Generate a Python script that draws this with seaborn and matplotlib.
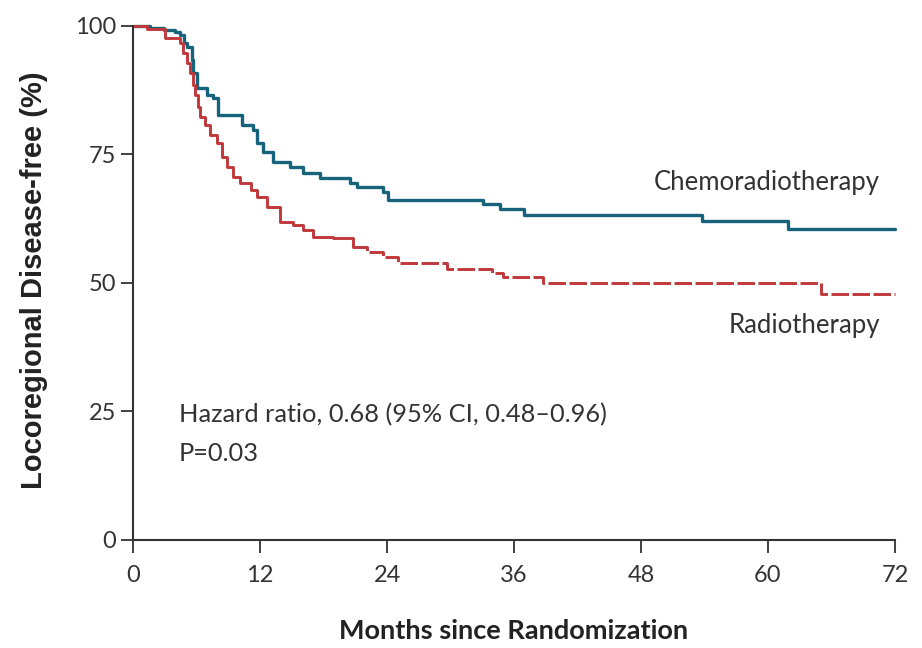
import numpy as np
import pandas as pd
import seaborn as sns
import matplotlib.pyplot as plt

# --- data (months, % free of locoregional disease) ---
chemo_months = [0, 1.6, 2.9, 4.0, 4.4, 4.8, 5.1, 5.6, 5.7, 6.0, 7.0, 7.6, 8.0,
                10.3, 11.3, 11.7, 12.3, 13.2, 14.8, 16.1, 17.7, 20.5, 21.2,
                23.6, 24.1, 33.1, 34.7, 36.9, 53.8, 61.9, 72]
chemo_pct = [100, 99.7, 99.2, 98.8, 98.2, 96.7, 95.9, 93.4, 90.9, 87.9, 86.6,
             86.0, 82.7, 80.7, 79.8, 77.2, 75.5, 73.5, 72.6, 71.4, 70.4, 69.5,
             68.7, 67.7, 66.1, 65.3, 64.4, 63.2, 62.1, 60.5, 60.5]

radio_months = [0, 1.3, 3.0, 4.4, 4.7, 5.1, 5.4, 5.7, 5.9, 6.1, 6.3, 6.8, 7.3,
                7.9, 8.4, 8.9, 9.4, 10.1, 11.1, 11.7, 12.7, 13.9, 15.1, 16.1,
                17.0, 18.9, 20.8, 22.1, 23.6, 25.0, 29.7, 33.9, 35.0, 38.7,
                65.0, 72]
radio_pct = [100, 99.5, 97.7, 96.7, 94.7, 92.8, 90.9, 88.5, 86.6, 84.2, 82.3,
             80.7, 78.8, 77.2, 74.5, 72.6, 70.6, 69.5, 68.1, 66.8, 64.8, 61.9,
             61.3, 60.3, 59.0, 58.8, 57.0, 56.0, 55.1, 53.9, 52.7, 51.9, 51.2,
             50.0, 47.9, 47.9]

x_ticks = [0, 12, 24, 36, 48, 60, 72]
y_ticks = [0, 25, 50, 75, 100]

teal = "#17637c"
red = "#c0383a"

sns.set_style("ticks")
plt.rcParams['font.family'] = ['Lato', 'DejaVu Sans']

fig = plt.figure(figsize=(9.22, 6.48), dpi=100)
ax = fig.add_axes([0.1443, 0.1667, 0.8264, 0.7932])

chemo = pd.DataFrame({"month": chemo_months, "pct": chemo_pct})
radio = pd.DataFrame({"month": radio_months, "pct": radio_pct})
radio_early = radio[radio["month"] <= 20.8]
radio_late = radio[radio["month"] >= 20.8]

kw = dict(x="month", y="pct", estimator=None, sort=True, drawstyle="steps-post",
          ax=ax, clip_on=False)
sns.lineplot(data=chemo, color=teal, lw=2.4, **kw)
sns.lineplot(data=radio_early, color=red, lw=2.1, **kw)
sns.lineplot(data=radio_late, color=red, lw=2.1, **kw)
ax.lines[-1].set_dashes([6, 1.2])

ax.set_xlim(0, 72)
ax.set_ylim(0, 100)
ax.set_xticks(x_ticks)
ax.set_yticks(y_ticks)
sns.despine(ax=ax)
for s in ["left", "bottom"]:
    ax.spines[s].set_color("#333333")
    ax.spines[s].set_linewidth(1.5)
ax.tick_params(axis="both", length=9, width=1.3, color="#333333",
               labelsize=17, labelcolor="#333333")
ax.tick_params(axis="x", pad=9)
ax.tick_params(axis="y", pad=3)

ax.set_xlabel("Months since Randomization", fontsize=19.5, fontweight="bold",
              color="#222222", labelpad=24)
ax.set_ylabel("Locoregional Disease-free (%)", fontsize=21,
              fontweight="bold", family=["Liberation Sans", "DejaVu Sans"],
              color="#222222")
ax.yaxis.set_label_coords(-0.112, 0.505)

ax.text(70.6, 69.5, "Chemoradiotherapy", ha="right", va="center",
        fontsize=18.5, color="#333333")
ax.text(70.6, 41.8, "Radiotherapy", ha="right", va="center",
        fontsize=18.5, color="#333333")
ax.text(4.3, 24.3, "Hazard ratio, 0.68 (95% CI, 0.48\u20130.96)", ha="left",
        va="center", fontsize=18.3, color="#333333")
ax.text(4.3, 16.9, "P=0.03", ha="left", va="center", fontsize=18.3,
        color="#333333")

fig.savefig("out.png", dpi=100)
